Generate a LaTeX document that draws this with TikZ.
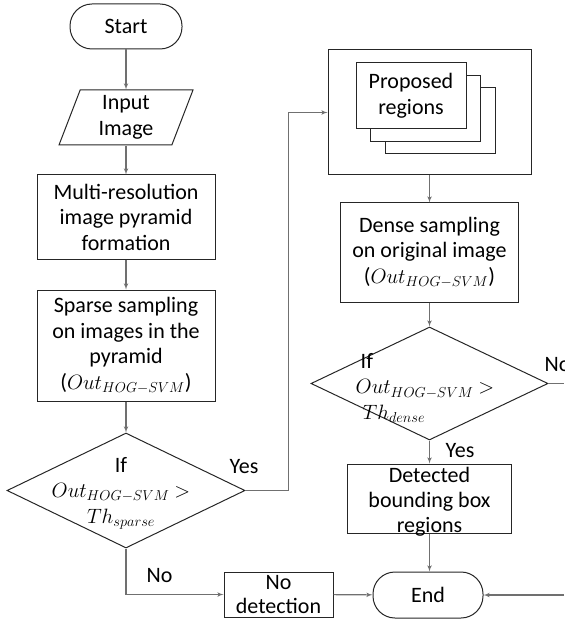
\documentclass[tikz,border=0pt]{standalone}
\usepackage{fontspec}
\setmainfont{Carlito}
\usetikzlibrary{shapes,arrows,calc,positioning}
\definecolor{linegray}{HTML}{707070}
\definecolor{boxline}{HTML}{262626}
\tikzset{
%Define standard arrow tip
>=latex',
%Define styles for the different boxes
box/.style={draw=boxline, line width=1pt, align=center, inner sep=0pt},
process/.style={box, rectangle},
terminal/.style={box, rectangle, rounded corners=22pt},
inout/.style={box, trapezium, trapezium left angle=64, trapezium right angle=116, trapezium stretches body},
decision/.style={box, diamond},
page/.style={box, fill=white, minimum width=110pt, minimum height=66pt},
%Define style for the connectors
connection/.style={->, draw=linegray, line width=1.1pt},
}

\begin{document}
\begin{tikzpicture}[x=1pt, y=-1pt, font=\fontsize{22}{25.5}\selectfont]
    \useasboundingbox (0,0) rectangle (564,620);
    \clip (0,0) rectangle (564,620);
    %Left column: coarse search
    \node[terminal, minimum width=112pt, minimum height=45pt] (start) at (126,26.5) {Start};
    \node[inout, minimum width=134pt, minimum height=55pt] (input) at (126,117.5) {Input\\Image};
    \node[process, minimum width=178pt, minimum height=84pt] (multi) at (126,217) {Multi-resolution\\image pyramid\\formation};
    \node[process, minimum width=178pt, minimum height=111pt] (sparse) at (126,345.5)
      {Sparse sampling\\on images in the\\pyramid\\($Out_{HOG-SVM}$)};
    \node[decision, minimum width=238pt, minimum height=115pt] (ifsparse) at (126,490.5) {};
    \node[align=center] (ifsparsetext) at (121,493) {If\\$Out_{HOG-SVM}$ $>$\\$Th_{sparse}$};

    %Right column: fine search
    \node[process, minimum width=203pt, minimum height=125pt] (regions) at (429.5,112.5) {};
    %% stacked pages, back to front
    \node[page] (page3) at (440,121) {};
    \node[page] (page2) at (425.5,109) {};
    \node[page] (page1) at (411,96) {Proposed\\regions};
    \node[process, minimum width=178pt, minimum height=99pt] (dense) at (429.5,252.5)
      {Dense sampling\\on original image\\($Out_{HOG-SVM}$)};
    \node[decision, minimum width=237pt, minimum height=113pt] (ifdense) at (429.5,383.5) {};
    \node[align=left] (ifdensetext) at (425,388) {\hspace{5pt}If\\$Out_{HOG-SVM}$ $>$\\\hspace{7pt}$Th_{dense}$};
    \node[process, minimum width=164pt, minimum height=69pt] (detected) at (429.5,498.5) {};
    \node[align=center, font=\fontsize{22}{25}\selectfont] (detectedtext) at (429.5,502) {Detected\\bounding box\\regions};
    \node[terminal, minimum width=110pt, minimum height=46pt] (end) at (428,595) {End};
    \node[process, minimum width=109pt, minimum height=45pt] (nodetect) at (278.5,594.5) {};
    \node[align=center, font=\fontsize{22}{24}\selectfont] (nodetecttext) at (278.5,595) {No\\detection};

    %Free ends at the right border
    \coordinate (rightin) at (564,595);
    \coordinate (rightout) at (564,383.5);

    %Connectors
    \draw[connection] (start) -- (input);
    \draw[connection] (input) -- (multi);
    \draw[connection] (multi) -- (sparse);
    \draw[connection] (sparse) -- (ifsparse);
    \draw[connection] (ifsparse.east) -- ++(43,0) |- (regions.west);
    \draw[connection] (ifsparse.south) |- (nodetect.west);
    \draw[connection] (nodetect) -- (end);
    \draw[connection] (regions) -- (dense);
    \draw[connection] (dense) -- (ifdense);
    \draw[connection] (ifdense) -- (detected);
    \draw[connection] (detected.south) -- (detected.south |- end.north);
    \draw[connection] (rightin) -- (end.east);
    \draw[connection, -] (ifdense.east) -- (rightout);

    %Branch labels
    \node (yessparse) at (244,467) {Yes};
    \node (nosparse) at (159.5,576) {No};
    \node (yesdense) at (460,451) {Yes};
    \node[anchor=west] (nodense) at (541,365) {No};
\end{tikzpicture}
\end{document}
